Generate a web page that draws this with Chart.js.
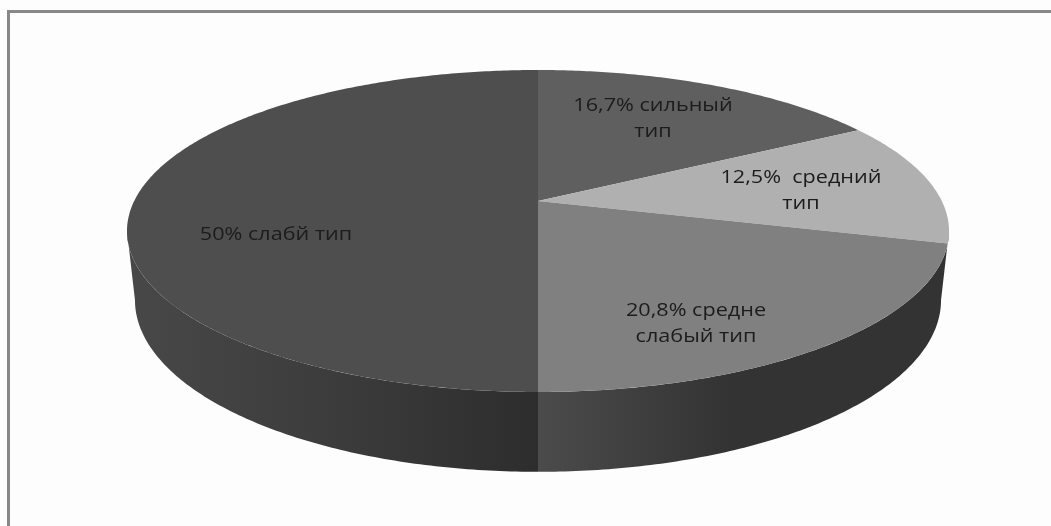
<!DOCTYPE html>
<html>
<head>
<meta charset="utf-8">
<script src="https://cdn.jsdelivr.net/npm/chart.js@4"></script>
<style>
  html, body { margin: 0; padding: 0; background: #fdfdfd; }
  #marco { position: absolute; left: 7px; top: 10px; right: 0; bottom: 0; border-left: 3px solid #888; border-top: 3px solid #888; }
  canvas { position: absolute; left: 0; top: 0; }
</style>
</head>
<body>
<div id="marco"></div>
<canvas id="grafico" width="1051" height="526"></canvas>
<script>
// datos del grafico
const tipos = ['сильный', 'средний', 'средне слабый', 'слабый'];
const valores = [16.7, 12.5, 20.8, 50];
const etiquetas = [
  ['16,7% сильный', 'тип'],
  ['12,5%  средний', 'тип'],
  ['20,8% средне', 'слабый тип'],
  ['50% слабй тип']
];
const colores = ['#5f5f5f', '#b0b0b0', '#808080', '#4e4e4e'];

// centro de cada etiqueta (x, y de la primera linea)
const posEtiquetas = [[653, 106], [801, 178], [696, 311], [276, 235]];
const altoLinea = 26;
const estiramientoTexto = 1.2; // el texto original esta ensanchado

// cara superior y cara inferior del disco, con perspectiva (k)
const caraSup = { x: 538, y: 201, rx: 403.8, ry: 155.4, k: 0.1864 };
const caraInf = { x: 538, y: 265.6, rx: 394.9, ry: 165, k: 0.2 };

// angulo de canvas -> punto en pantalla
function proyectar(cara, ang) {
  const u = Math.cos(ang);
  const v = -Math.sin(ang);
  const w = 1 + cara.k * v;
  return [cara.x + cara.rx * u / w, cara.y - cara.ry * v / w];
}

function trazarBorde(ctx, cara, a0, a1, alReves) {
  const pasos = Math.max(2, Math.ceil(Math.abs(a1 - a0) * 90));
  for (let i = 0; i <= pasos; i++) {
    const t = alReves ? 1 - i / pasos : i / pasos;
    const p = proyectar(cara, a0 + (a1 - a0) * t);
    ctx.lineTo(p[0], p[1]);
  }
}

function gradientePared(ctx, x0, x1, paradas) {
  const g = ctx.createLinearGradient(x0, 0, x1, 0);
  paradas.forEach(p => g.addColorStop(p[0], p[1]));
  return g;
}

const discoPlugin = {
  id: 'disco3d',
  // en lugar de los arcos planos se dibuja el disco con los angulos de cada arco
  beforeDatasetsDraw(chart) {
    const ctx = chart.ctx;
    const arcos = chart.getDatasetMeta(0).data;
    const abajo = Math.PI / 2;

    // pared: la mitad delantera, entre los puntos extremos de cada cara
    const derSup = Math.asin(caraSup.k);
    const derInf = Math.asin(caraInf.k);
    const izqSup = Math.PI - derSup;
    const izqInf = Math.PI - derInf;

    ctx.save();
    const pared = [
      { sup: [derSup, abajo], inf: [derInf, abajo], fill: gradientePared(ctx, 538, 730, [[0, '#4b4b4b'], [1, '#333333']]) },
      { sup: [abajo, izqSup], inf: [abajo, izqInf], fill: gradientePared(ctx, 127, 538, [[0, '#484848'], [0.5, '#3c3c3c'], [1, '#2d2d2d']]) }
    ];
    pared.forEach(s => {
      ctx.beginPath();
      trazarBorde(ctx, caraSup, s.sup[0], s.sup[1], false);
      trazarBorde(ctx, caraInf, s.inf[0], s.inf[1], true);
      ctx.closePath();
      ctx.fillStyle = s.fill;
      ctx.fill();
    });

    // cara superior
    arcos.forEach((arco, i) => {
      const props = arco.getProps(['startAngle', 'endAngle'], true);
      ctx.beginPath();
      ctx.moveTo(caraSup.x, caraSup.y);
      trazarBorde(ctx, caraSup, props.startAngle, props.endAngle, false);
      ctx.closePath();
      ctx.fillStyle = colores[i];
      ctx.fill();
    });

    // etiquetas
    ctx.font = '18px "Open Sans", sans-serif';
    ctx.fillStyle = '#1c1c1c';
    ctx.textAlign = 'center';
    ctx.textBaseline = 'middle';
    etiquetas.forEach((lineas, i) => {
      lineas.forEach((txt, j) => {
        ctx.save();
        ctx.translate(posEtiquetas[i][0], posEtiquetas[i][1] + j * altoLinea);
        ctx.scale(estiramientoTexto, 1);
        ctx.fillText(txt, 0, 0);
        ctx.restore();
      });
    });
    ctx.restore();
    return false;
  }
};

new Chart(document.getElementById('grafico').getContext('2d'), {
  type: 'pie',
  data: {
    labels: tipos,
    datasets: [{ data: valores, backgroundColor: colores, borderWidth: 0 }]
  },
  options: {
    responsive: false,
    animation: false,
    plugins: { legend: { display: false }, tooltip: { enabled: false } }
  },
  plugins: [discoPlugin]
});
</script>
</body>
</html>
